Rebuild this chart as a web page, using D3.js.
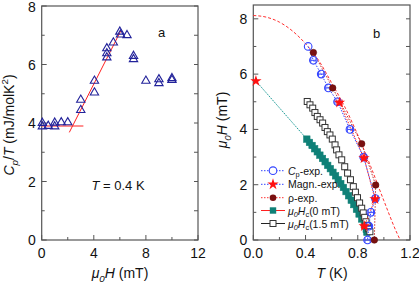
<!DOCTYPE html>
<html><head><meta charset="utf-8">
<script src="https://cdn.jsdelivr.net/npm/d3@7"></script>
<style>body{margin:0;background:#fff}svg{display:block;font-family:"Liberation Sans",Arial,sans-serif}</style>
</head><body><svg id="c" width="419" height="285"></svg>
<script>
// ---------- Panel a data ----------
const aFieldTicks = [0, 4, 8, 12];
const aCpTicks = [0, 2, 4, 6, 8];
const aH = [0.05, 0.05, 0.5, 1.0, 1.0, 1.5, 2.0, 3.0, 3.0, 4.05, 4.05, 5.0, 5.0, 5.0, 5.5, 6.0, 6.05, 6.55, 7.05, 7.05, 8.0, 9.0, 9.0, 10.0, 10.0];
const aCp = [4.0, 3.88, 3.9, 4.01, 3.88, 4.02, 4.02, 4.44, 4.79, 5.04, 5.44, 6.24, 6.38, 6.55, 6.75, 7.12, 7.02, 7.0, 6.18, 6.29, 5.44, 5.36, 5.49, 5.47, 5.53];
const aFlatH = [0, 3.2];
const aFlatCp = [3.9, 3.9];
const aRiseH = [2.12, 6.07];
const aRiseCp = [3.68, 7.15];

// ---------- Panel b data ----------
const bTTicks = [0.0, 0.4, 0.8, 1.2];
const bHTicks = [0, 2, 4, 6, 8];
const cpT = [0.42, 0.46, 0.52, 0.575, 0.645, 0.74, 0.845, 0.935, 0.90, 0.885, 0.875];
const cpH = [7.0, 6.5, 6.0, 5.5, 5.0, 4.0, 3.0, 1.5, 1.0, 0.5, 0.0];
const magT = [0.02, 0.66, 0.848, 0.932, 0.85];
const magH = [5.75, 4.97, 2.96, 1.48, 0.5];
const rhoT = [0.46, 0.608, 0.83, 0.937, 0.927];
const rhoH = [6.78, 5.5, 3.48, 1.99, 0.0];
const fitT = [0, 0.1, 0.2, 0.3, 0.4, 0.5, 0.6, 0.7, 0.8, 0.9, 1.0, 1.1, 1.125];
const fitH = [8.12, 8.06, 7.88, 7.56, 7.1, 6.5, 5.68, 4.82, 3.8, 2.65, 1.42, 0.25, 0.0];
const hc0T = [0.41, 0.43, 0.45, 0.47, 0.49, 0.51, 0.53, 0.55, 0.57, 0.59, 0.61, 0.63, 0.65, 0.67, 0.69, 0.71, 0.73, 0.75, 0.77, 0.79, 0.81, 0.83, 0.85, 0.865, 0.87];
const hc0H = [3.65, 3.53, 3.42, 3.30, 3.19, 3.07, 2.95, 2.83, 2.70, 2.58, 2.45, 2.32, 2.18, 2.04, 1.90, 1.75, 1.60, 1.44, 1.28, 1.11, 0.94, 0.76, 0.56, 0.38, 0.28];
const hc0LineT = [0.02, 0.41];
const hc0LineH = [5.75, 3.65];
const hc15T = [0.413, 0.434, 0.455, 0.472, 0.49, 0.511, 0.531, 0.549, 0.567, 0.587, 0.605, 0.626, 0.638, 0.656, 0.677, 0.70, 0.722, 0.744, 0.766, 0.782, 0.798, 0.814, 0.83, 0.842, 0.853, 0.863, 0.873, 0.883, 0.893];
const hc15H = [5.01, 4.89, 4.77, 4.61, 4.47, 4.35, 4.23, 4.07, 3.92, 3.80, 3.65, 3.44, 3.26, 3.08, 2.90, 2.65, 2.42, 2.18, 1.93, 1.73, 1.53, 1.34, 1.15, 0.98, 0.82, 0.66, 0.53, 0.41, 0.30];
const legendLabels = ["Cp-exp.", "Magn.-exp.", "ρ-exp.", "μ0Hc(0 mT)", "μ0Hc(1.5 mT)"];

const svg = d3.select("#c");
const zip = (xs, ys) => xs.map((x, i) => [x, ys[i]]);

function frame(x, y, xMajor, xMinorStep, yMajor, yMinorStep, rightStep, fmtX) {
  const g = svg.append("g");
  const [x0, x1] = x.range(), [y0, y1] = y.range();
  g.append("rect").attr("x", x0).attr("y", y1).attr("width", x1 - x0).attr("height", y0 - y1)
    .attr("fill", "none").attr("stroke", "#555").attr("stroke-width", 1.2);
  const xd = x.domain(), yd = y.domain();
  d3.range(xd[0], xd[1] + 1e-9, xMinorStep).forEach(v => {
    const major = xMajor.some(m => Math.abs(m - v) < 1e-6);
    g.append("line").attr("x1", x(v)).attr("x2", x(v)).attr("y1", y0).attr("y2", y0 - (major ? 5 : 3)).attr("stroke", "#555");
  });
  d3.range(yd[0], yd[1] + 1e-9, yMinorStep).forEach(v => {
    const major = yMajor.some(m => Math.abs(m - v) < 1e-6);
    g.append("line").attr("x1", x0).attr("x2", x0 + (major ? 5 : 3)).attr("y1", y(v)).attr("y2", y(v)).attr("stroke", "#555");
  });
  d3.range(yd[0], yd[1] + 1e-9, rightStep).forEach(v => {
    g.append("line").attr("x1", x1).attr("x2", x1 - 4).attr("y1", y(v)).attr("y2", y(v)).attr("stroke", "#555");
  });
  xMajor.forEach(v => g.append("text").attr("x", x(v)).attr("y", y0 + 18).attr("text-anchor", "middle")
    .attr("font-size", 14).attr("fill", "#111").text(fmtX(v)));
  yMajor.forEach(v => g.append("text").attr("x", x0 - 6).attr("y", Math.max(y(v) + 5, 12)).attr("text-anchor", "end")
    .attr("font-size", 14).attr("fill", "#111").text(v));
}

function rich(sel, parts, size) {
  parts.forEach(([t, st]) => {
    const ts = sel.append("tspan").text(t);
    if (st && st.includes("i")) ts.attr("font-style", "italic");
    if (st && st.includes("s")) ts.attr("font-size", size * 0.7);
    if (st && st.includes("u")) ts.attr("font-size", size * 0.7);
    ts.attr("data-shift", st && st.includes("s") ? size * 0.25 : (st && st.includes("u") ? -size * 0.4 : 0));
  });
  let shift = 0;
  sel.selectAll("tspan").each(function () {
    const s = +this.getAttribute("data-shift") || 0;
    if (s !== shift) { d3.select(this).attr("dy", s - shift); shift = s; }
  });
}

// ===== Panel a =====
const xa = d3.scaleLinear().domain([0, 12]).range([41.7, 198]);
const ya = d3.scaleLinear().domain([0, 8]).range([240, 6]);
frame(xa, ya, aFieldTicks, 2, aCpTicks, 1, 1, v => v);

const lineA = d3.line().x(d => xa(d[0])).y(d => ya(d[1]));
svg.append("path").attr("d", lineA(zip(aFlatH, aFlatCp))).attr("fill", "none").attr("stroke", "#ff6a6a").attr("stroke-width", 1.4);
svg.append("path").attr("d", lineA(zip(aRiseH, aRiseCp))).attr("fill", "none").attr("stroke", "#ff2020").attr("stroke-width", 1);
const tri = d3.symbol().type(d3.symbolTriangle).size(30);
svg.append("g").selectAll("path").data(zip(aH, aCp)).join("path")
  .attr("d", tri).attr("transform", d => `translate(${xa(d[0])},${ya(d[1])})`)
  .attr("fill", "none").attr("stroke", "#22229a").attr("stroke-width", 1.1);

svg.append("text").attr("x", 158).attr("y", 37).attr("font-size", 13).attr("fill", "#111").text("a");
rich(svg.append("text").attr("x", 118).attr("y", 190).attr("text-anchor", "middle").attr("font-size", 13).attr("fill", "#111"),
  [["T", "i"], [" = 0.4 K", ""]], 13);
rich(svg.append("text").attr("x", 120).attr("y", 278).attr("text-anchor", "middle").attr("font-size", 14).attr("fill", "#111"),
  [["μ", "i"], ["0", "is"], ["H", "i"], [" (mT)", ""]], 14);
rich(svg.append("text").attr("transform", "translate(14,125) rotate(-90)").attr("text-anchor", "middle").attr("font-size", 14).attr("fill", "#111"),
  [["C", "i"], ["p", "is"], ["/", ""], ["T", "i"], [" (mJ/molK", ""], ["2", "u"], [")", ""]], 14);

// ===== Panel b =====
const xb = d3.scaleLinear().domain([0, 1.2]).range([253.3, 410]);
const yb = d3.scaleLinear().domain([0, 8.5]).range([240, 5]);
frame(xb, yb, bTTicks, 0.2, bHTicks, 1, 1, v => v.toFixed(1));
const lineB = d3.line().x(d => xb(d[0])).y(d => yb(d[1]));

svg.append("path").attr("d", d3.line().curve(d3.curveMonotoneX).x(d => xb(d[0])).y(d => yb(d[1]))(zip(fitT, fitH)))
  .attr("fill", "none").attr("stroke", "#ff3030").attr("stroke-width", 1).attr("stroke-dasharray", "3,2");
svg.append("path").attr("d", lineB(zip(hc0LineT, hc0LineH).concat(zip(hc0T, hc0H)))).attr("fill", "none")
  .attr("stroke", "#1a9a96").attr("stroke-width", 1).attr("stroke-dasharray", "1.5,1");
svg.append("g").selectAll("rect").data(zip(hc0T, hc0H)).join("rect")
  .attr("x", d => xb(d[0]) - 3.2).attr("y", d => yb(d[1]) - 3.2).attr("width", 6.4).attr("height", 6.4)
  .attr("fill", "#0f8077").attr("stroke", "#0f8077").attr("stroke-width", 0.6);
svg.append("path").attr("d", lineB(zip(hc15T, hc15H))).attr("fill", "none").attr("stroke", "#333").attr("stroke-width", 0.8);
svg.append("g").selectAll("rect").data(zip(hc15T, hc15H)).join("rect")
  .attr("x", d => xb(d[0]) - 3).attr("y", d => yb(d[1]) - 3).attr("width", 6).attr("height", 6)
  .attr("fill", "#fff").attr("stroke", "#333").attr("stroke-width", 1);
svg.append("path").attr("d", lineB(zip(cpT, cpH))).attr("fill", "none").attr("stroke", "#3344ff").attr("stroke-width", 1).attr("stroke-dasharray", "1.5,1.5");
svg.append("path").attr("d", lineB(zip(magT.slice(1), magH.slice(1)))).attr("fill", "none").attr("stroke", "#ff2222").attr("stroke-width", 1).attr("stroke-dasharray", "1.5,1.5");
svg.append("path").attr("d", lineB(zip(rhoT, rhoH))).attr("fill", "none").attr("stroke", "#c03030").attr("stroke-width", 1).attr("stroke-dasharray", "1.5,1.5");
function errBar(d, color) {
  const g = svg.append("g").attr("stroke", color).attr("stroke-width", 1);
  const xl = xb(d[0] - 0.02), xr = xb(d[0] + 0.02), yy = yb(d[1]);
  g.append("line").attr("x1", xl).attr("x2", xr).attr("y1", yy).attr("y2", yy);
  g.append("line").attr("x1", xl).attr("x2", xl).attr("y1", yy - 3).attr("y2", yy + 3);
  g.append("line").attr("x1", xr).attr("x2", xr).attr("y1", yy - 3).attr("y2", yy + 3);
}
zip(cpT, cpH).slice(1).forEach(d => errBar(d, "#3344ff"));
zip(magT, magH).slice(1).forEach(d => errBar(d, "#ff2222"));
const star = d3.symbol().type(d3.symbolStar).size(40);
svg.append("g").selectAll("circle").data(zip(cpT, cpH)).join("circle")
  .attr("cx", d => xb(d[0])).attr("cy", d => yb(d[1])).attr("r", 3.8)
  .attr("fill", "none").attr("stroke", "#3344ff").attr("stroke-width", 1.1);
svg.append("g").selectAll("path").data(zip(magT, magH)).join("path")
  .attr("d", star).attr("transform", d => `translate(${xb(d[0])},${yb(d[1])})`).attr("fill", "#ff1111");
svg.append("g").selectAll("circle").data(zip(rhoT, rhoH)).join("circle")
  .attr("cx", d => xb(d[0])).attr("cy", d => yb(d[1])).attr("r", 3.3)
  .attr("fill", "#7a1010").attr("stroke", "#5a0a0a").attr("stroke-width", 0.5);

// legend
const lg = svg.append("g");
const ly = [170.7, 184.3, 197.7, 210.5, 223.5];
const lx0 = 261, lx1 = 285, lsx = 273;
const lineStyles = [["#3344ff", "1.5,1.5"], ["#3344ff", "1.5,1.5"], ["#ff3030", "1.5,1.5"], ["#ff2020", null], ["#222", null]];
ly.forEach((y, i) => {
  const l = lg.append("line").attr("x1", lx0).attr("x2", lx1).attr("y1", y).attr("y2", y)
    .attr("stroke", lineStyles[i][0]).attr("stroke-width", 1);
  if (lineStyles[i][1]) l.attr("stroke-dasharray", lineStyles[i][1]);
});
lg.append("circle").attr("cx", lsx).attr("cy", ly[0]).attr("r", 3.8).attr("fill", "#fff").attr("stroke", "#3344ff").attr("stroke-width", 1.1);
lg.append("path").attr("d", star).attr("transform", `translate(${lsx},${ly[1]})`).attr("fill", "#ff1111");
lg.append("circle").attr("cx", lsx).attr("cy", ly[2]).attr("r", 3.3).attr("fill", "#7a1010");
lg.append("rect").attr("x", lsx - 3.2).attr("y", ly[3] - 3.2).attr("width", 6.4).attr("height", 6.4).attr("fill", "#0f8077");
lg.append("rect").attr("x", lsx - 3).attr("y", ly[4] - 3).attr("width", 6).attr("height", 6).attr("fill", "#fff").attr("stroke", "#333");
const legendRich = [
  [["C", "i"], ["p", "s"], ["-exp.", ""]],
  [[legendLabels[1], ""]],
  [[legendLabels[2], ""]],
  [["μ", "i"], ["0", "is"], ["H", "i"], ["c", "s"], ["(0 mT)", ""]],
  [["μ", "i"], ["0", "is"], ["H", "i"], ["c", "s"], ["(1.5 mT)", ""]]
];
legendRich.forEach((parts, i) => {
  rich(lg.append("text").attr("x", 288).attr("y", ly[i] + 4).attr("font-size", 10.5).attr("fill", "#111"), parts, 10.5);
});

svg.append("text").attr("x", 373).attr("y", 38).attr("font-size", 13).attr("fill", "#111").text("b");
rich(svg.append("text").attr("x", 332).attr("y", 278).attr("text-anchor", "middle").attr("font-size", 14).attr("fill", "#111"),
  [["T", "i"], [" (K)", ""]], 14);
rich(svg.append("text").attr("transform", "translate(227,120) rotate(-90)").attr("text-anchor", "middle").attr("font-size", 14).attr("fill", "#111"),
  [["μ", "i"], ["0", "is"], ["H", "i"], [" (mT)", ""]], 14);
</script></body></html>
